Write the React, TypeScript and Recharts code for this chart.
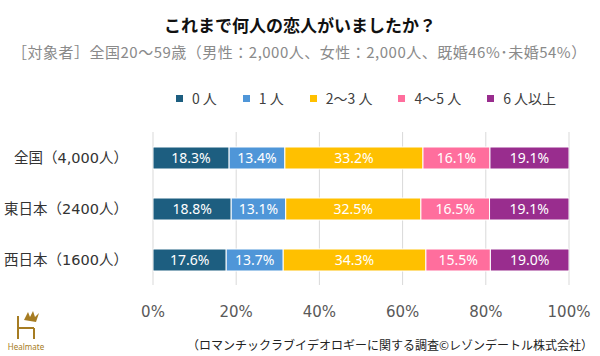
import React from 'react'
import { BarChart, Bar, XAxis, YAxis, CartesianGrid, Legend, LabelList } from 'recharts'

const categories = ['全国（4,000人）', '東日本（2400人）', '西日本（1600人）']
const seriesNames = ['0 人', '1 人', '2～3 人', '4～5 人', '6 人以上']
const v0 = [18.3, 18.8, 17.6]
const v1 = [13.4, 13.1, 13.7]
const v23 = [33.2, 32.5, 34.3]
const v45 = [16.1, 16.5, 15.5]
const v6 = [19.1, 19.1, 19.0]
const xTicks = [0, 20, 40, 60, 80, 100]
const colors = ['#1d5e80', '#4f96d8', '#ffc000', '#ff6e9d', '#992d8e']

const keys = ['s0', 's1', 's2', 's3', 's4']
const data = categories.map((name, i) => ({
  name,
  s0: v0[i],
  s1: v1[i],
  s2: v23[i],
  s3: v45[i],
  s4: v6[i],
}))

const latin = "'Noto Sans', 'Noto Sans CJK JP', sans-serif"
const wide = "'DejaVu Sans', 'Noto Sans CJK JP', sans-serif"
const jp = "'Noto Sans CJK JP', sans-serif"

function LegendBox() {
  return (
    <div style={{ display: 'flex', justifyContent: 'center', gap: 26, fontFamily: wide, fontSize: 14, color: '#404040' }}>
      {seriesNames.map((n, i) => (
        <div key={n} style={{ display: 'flex', alignItems: 'center' }}>
          <span style={{ width: 7, height: 7, background: colors[i], display: 'inline-block', marginRight: 9 }} />
          <span style={{ fontFamily: jp }}>{n}</span>
        </div>
      ))}
    </div>
  )
}

export default function App() {
  return (
    <div style={{ position: 'absolute', left: 0, top: 0, width: 600, height: 356, background: '#fff', overflow: 'hidden' }}>
      <div style={{ position: 'absolute', top: 12, width: 600, textAlign: 'center', fontFamily: jp, fontWeight: 700, fontSize: 17, color: '#111', lineHeight: '26px' }}>
        これまで何人の恋人がいましたか？
      </div>
      <div style={{ position: 'absolute', top: 41, left: 12, fontFamily: jp, fontSize: 15, letterSpacing: 0.5, color: '#8a8a8a', lineHeight: '22px', whiteSpace: 'nowrap' }}>
        ［対象者］全国20～59歳（男性：2,000人、女性：2,000人、既婚46%･未婚54%）
      </div>
      <BarChart
        width={600}
        height={356}
        data={data}
        layout="vertical"
        margin={{ top: 112, right: 31, bottom: 31, left: 0 }}
        barSize={22}
      >
        <CartesianGrid horizontal={false} stroke="#d9d9d9" />
        <XAxis
          type="number"
          domain={[0, 100]}
          ticks={xTicks}
          allowDataOverflow
          tickFormatter={(v) => v + '%'}
          axisLine={false}
          tickLine={false}
          tickSize={0}
          tickMargin={21}
          height={40}
          tick={{ fill: '#595959', fontSize: 15, fontFamily: wide }}
        />
        <YAxis
          type="category"
          dataKey="name"
          width={153}
          axisLine={false}
          tickLine={false}
          tickSize={0}
          tickMargin={25}
          tick={{ fill: '#333', fontSize: 14.5, fontFamily: wide }}
        />
        <Legend verticalAlign="top" wrapperStyle={{ top: 88, left: 66, width: 600 }} content={() => <LegendBox />} />
        {keys.map((k, i) => (
          <Bar key={k} dataKey={k} name={seriesNames[i]} stackId="a" fill={colors[i]} stroke="#fff" strokeWidth={1} isAnimationActive={false}>
            <LabelList
              dataKey={k}
              position="center"
              formatter={(v) => Number(v).toFixed(1) + '%'}
              style={{ fill: '#fff', fontSize: 14, fontFamily: latin }}
            />
          </Bar>
        ))}
      </BarChart>
      <div style={{ position: 'absolute', right: 7, top: 336, fontFamily: jp, fontSize: 12, color: '#222', lineHeight: '18px', whiteSpace: 'nowrap' }}>
        （ロマンチックラブイデオロギーに関する調査©レゾンデートル株式会社）
      </div>
      <svg style={{ position: 'absolute', left: 6, top: 308 }} width={44} height={46}>
        <g stroke="#a67c22" strokeWidth={2} fill="none">
          <line x1={12} y1={8} x2={12} y2={31} />
          <line x1={12} y1={20} x2={28} y2={20} />
          <line x1={28} y1={20} x2={28} y2={31} />
        </g>
        <path d="M18 12 L22 4 L24 9 L27 3 L29 9 L33 5 L30 14 Z" fill="#a67c22" />
        <text x={20} y={42} textAnchor="middle" fontSize={8} fill="#a67c22" fontFamily={latin}>Healmate</text>
      </svg>
    </div>
  )
}
